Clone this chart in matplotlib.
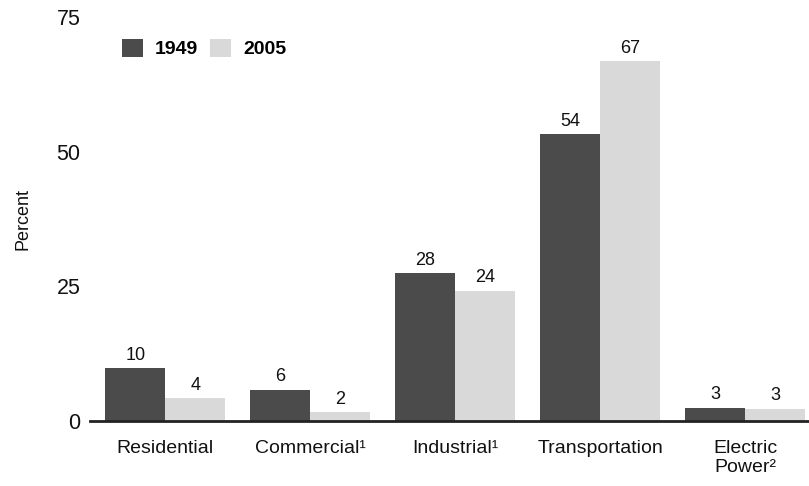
import matplotlib
matplotlib.use("Agg")
import matplotlib.pyplot as plt
import numpy as np
from matplotlib.patches import Patch

plt.rcParams['font.family'] = ['Liberation Sans', 'DejaVu Sans']

categories = ["Residential", "Commercial\u00b9", "Industrial\u00b9", "Transportation", "Electric\nPower\u00b2"]
values_1949 = [9.8, 5.8, 27.5, 53.3, 2.5]
values_2005 = [4.2, 1.7, 24.2, 66.8, 2.3]
labels_1949 = ["10", "6", "28", "54", "3"]
labels_2005 = ["4", "2", "24", "67", "3"]
series_names = ["1949", "2005"]
yticks = [0, 25, 50, 75]

dark = "#4b4b4b"
light = "#d9d9d9"

fig = plt.figure(figsize=(8.09, 4.86), dpi=100)
ax = fig.add_axes([90/809, 65/486, 719/809, 404/486])

x = np.arange(len(categories))
w = 0.414
b1 = ax.bar(x - w/2, values_1949, width=w, color=dark, edgecolor='none')
b2 = ax.bar(x + w/2, values_2005, width=w, color=light, edgecolor='none')

for rect, lab in zip(b1, labels_1949):
    ax.text(rect.get_x() + rect.get_width()/2, rect.get_height() + 0.8, lab,
            ha='center', va='bottom', fontsize=13, color='#111111')
for rect, lab in zip(b2, labels_2005):
    ax.text(rect.get_x() + rect.get_width()/2, rect.get_height() + 0.8, lab,
            ha='center', va='bottom', fontsize=13, color='#111111')

ax.set_xlim(-0.52, 4.44)
ax.set_ylim(0, 75)
ax.set_yticks(yticks)
ax.set_yticklabels([str(t) for t in yticks], fontsize=15.5, color='#111111')
ax.set_xticks(x)
ax.set_xticklabels(categories, fontsize=14, color='#111111', linespacing=1.1, va='top')
ax.tick_params(axis='both', length=0)
ax.tick_params(axis='y', pad=7)
ax.tick_params(axis='x', pad=14)

for s in ['top', 'right', 'left']:
    ax.spines[s].set_visible(False)
ax.spines['bottom'].set_linewidth(2)
ax.spines['bottom'].set_color('#222222')

ax.set_ylabel("Percent", fontsize=13, color='#111111', labelpad=18)

handles = [Patch(facecolor=dark, edgecolor='none'), Patch(facecolor=light, edgecolor='none')]
leg = ax.legend(handles, series_names, ncol=2, loc='upper left',
                bbox_to_anchor=(0.02, 0.99), frameon=False,
                prop={'weight': 'bold', 'size': 14},
                handlelength=1.1, handleheight=1.1, handletextpad=0.6, columnspacing=0.6)

fig.savefig("out.png", dpi=100)
